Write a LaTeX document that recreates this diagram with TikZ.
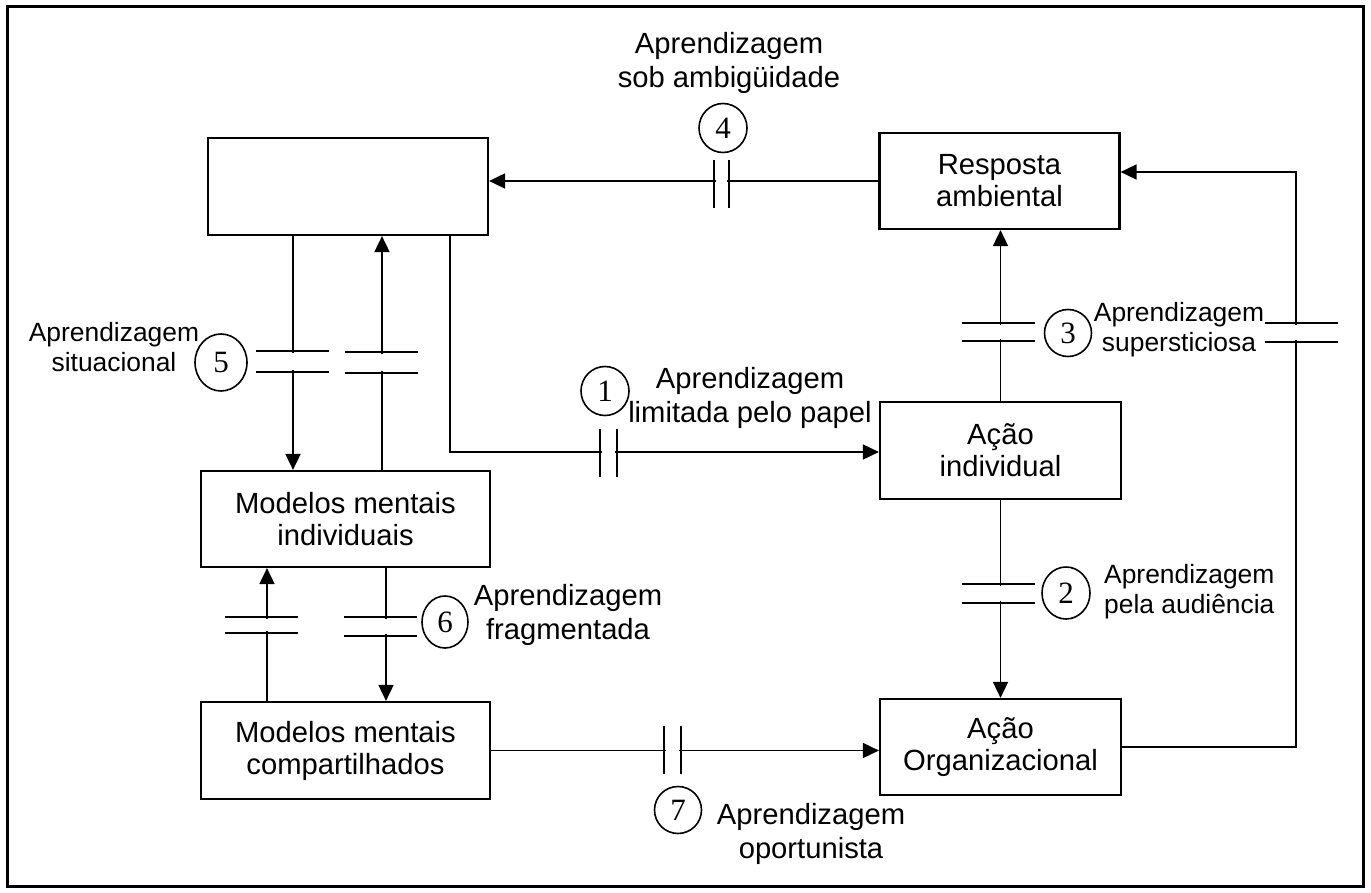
\documentclass[tikz,border=0pt]{standalone}
\usepackage{fontspec}
\setmainfont{Liberation Sans}
\newfontfamily\numfont{Liberation Serif}
\usetikzlibrary{arrows.meta,shapes.geometric}

\begin{document}
\begin{tikzpicture}[x=1pt, y=-1pt, >={Triangle[length=16pt,width=15pt]},
   box/.style={rectangle, draw, line width=2.2pt, align=center, inner sep=0pt, font={\fontsize{29.2}{32}\selectfont}},
   num/.style={ellipse, draw, line width=1.6pt, inner sep=0pt, minimum width=48pt, minimum height=49pt, font={\numfont\fontsize{31}{31}\selectfont}},
   big/.style={align=center, inner sep=0pt, font={\fontsize{29.2}{34}\selectfont}},
   small/.style={align=center, inner sep=0pt, font={\fontsize{26.4}{30}\selectfont}},
   link/.style={line width=1.8pt},
   bar/.style={line width=2.4pt}]
   \useasboundingbox (0,0) rectangle (1371,893);
   \draw[line width=3pt] (7,7) rectangle (1363,886);

   \node (mem) at (348,186.5) [box, minimum width=280pt, minimum height=97pt] {};
   \node (resp) at (999.5,181) [box, minimum width=240pt, minimum height=96pt] {Resposta\\ambiental};
   \node (acind) at (1000.5,450.5) [box, minimum width=241pt, minimum height=97pt] {Ação\\individual};
   \node (acorg) at (1000.5,747) [box, minimum width=241pt, minimum height=96pt] {Ação\\Organizacional};
   \node (mmi) at (345.5,519) [box, minimum width=289pt, minimum height=96pt] {Modelos mentais\\individuais};
   \node (mmc) at (345.5,750.5) [box, minimum width=289pt, minimum height=97pt] {Modelos mentais\\compartilhados};
   \coordinate (loop) at (1296,172);

   \draw[link] (resp.west)[->] -- (resp.west -| mem.east);
   \draw[link] (acind.north)[->] -- (acind.north |- resp.south);
   \draw[link] (acind.south)[->] -- (acorg.north);
   \draw[link] (acorg.east)[->] -| (loop) -- (loop -| resp.east);
   \draw[link] ([xshift=-55pt]mem.south)[->] -- ([xshift=-55pt]mem.south |- mmi.north);
   \draw[link] ([xshift=36.5pt]mmi.north)[->] -- ([xshift=36.5pt]mmi.north |- mem.south);
   \draw[link] ([xshift=102pt]mem.south)[->] |- ([yshift=-1.5pt]acind.west);
   \draw[link] ([xshift=-78.5pt]mmc.north)[->] -- ([xshift=-78.5pt]mmc.north |- mmi.south);
   \draw[link] ([xshift=40.5pt]mmi.south)[->] -- ([xshift=40.5pt]mmi.south |- mmc.north);
   \draw[link] (mmc.east)[->] -- (mmc.east -| acorg.west);

   \foreach \gx/\gy/\gd in {292.5/361.5/21, 381.5/362.5/21, 261.5/625/16, 380.5/626.5/19,
                            998.5/332/18, 1301/332.5/19, 998.5/593.5/19} {
     \fill[white] (\gx-38,\gy-\gd/2+2) rectangle (\gx+38,\gy+\gd/2-2);
     \draw[bar] (\gx-36.5,\gy-\gd/2) -- (\gx+36.5,\gy-\gd/2)
                (\gx-36.5,\gy+\gd/2) -- (\gx+36.5,\gy+\gd/2);
   }
   \foreach \gx/\gy/\gd in {721.5/184.5/15, 608.5/452.5/17, 672.5/749.5/17} {
     \fill[white] (\gx-\gd/2+2,\gy-10) rectangle (\gx+\gd/2-2,\gy+10);
     \draw[bar] (\gx-\gd/2,\gy-24) -- ++(0,48) (\gx+\gd/2,\gy-24) -- ++(0,48);
   }

   \node (n1) at (605,391) [num] {1};
   \node (n2) at (1066,593) [num, minimum height=52pt] {2};
   \node (n3) at (1068,333) [num, minimum width=47pt, minimum height=47pt] {3};
   \node (n4) at (723,128) [num] {4};
   \node (n5) at (221,362.5) [num, minimum width=52pt, minimum height=57pt] {5};
   \node (n6) at (445,622) [num, minimum width=46pt, minimum height=52pt] {6};
   \node (n7) at (678,810) [num, minimum width=47pt, minimum height=47pt] {7};

   \node (l1) at (750,398) [big] {Aprendizagem\\limitada pelo papel};
   \node (l2) at (1104,592) [small, anchor=west, align=left] {Aprendizagem\\pela audiência};
   \node (l3) at (1179,330) [small] {Aprendizagem\\supersticiosa};
   \node (l4) at (729,62.5) [big] {Aprendizagem\\sob ambigüidade};
   \node (l5) at (114,347) [small] {Aprendizagem\\situacional};
   \node (l6) at (568,615) [big] {Aprendizagem\\fragmentada};
   \node (l7) at (811,833.5) [big] {Aprendizagem\\oportunista};
\end{tikzpicture}
\end{document}
